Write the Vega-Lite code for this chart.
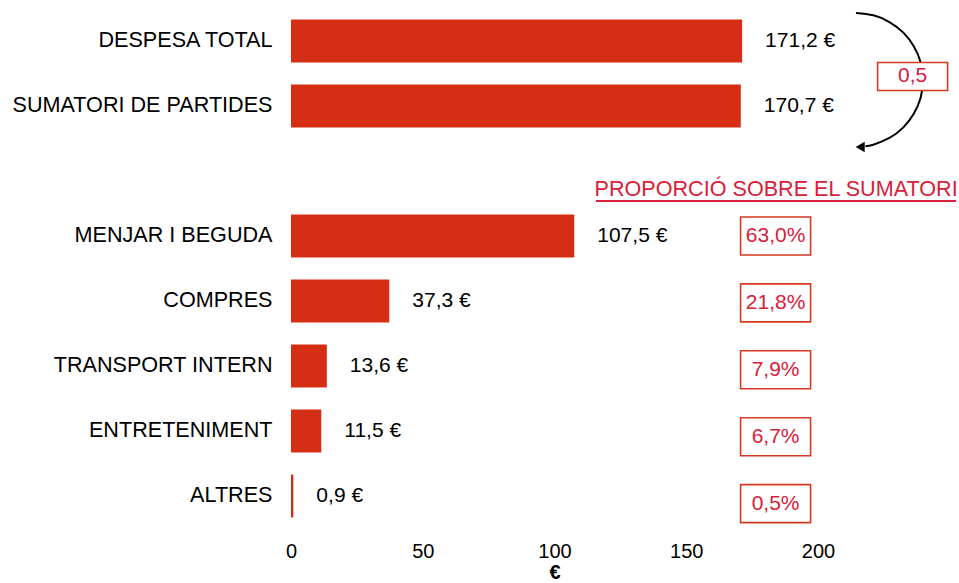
{
  "$schema": "https://vega.github.io/schema/vega-lite/v6.json",
  "width": 527,
  "height": 520,
  "autosize": "none",
  "padding": {"left": 291, "top": 8.5, "right": 141, "bottom": 54.5},
  "background": "white",
  "config": {
    "view": {"stroke": null},
    "font": "Liberation Sans",
    "text": {"fontSize": 20}
  },
  "datasets": {
    "cats": [
      {"cat": "DESPESA TOTAL", "v": 171.2, "lab": "171,2 €"},
      {"cat": "SUMATORI DE PARTIDES", "v": 170.7, "lab": "170,7 €"},
      {"cat": "MENJAR I BEGUDA", "v": 107.5, "lab": "107,5 €", "pct": "63,0%", "r": 3},
      {"cat": "COMPRES", "v": 37.3, "lab": "37,3 €", "pct": "21,8%", "r": 4},
      {"cat": "TRANSPORT INTERN", "v": 13.6, "lab": "13,6 €", "pct": "7,9%", "r": 5},
      {"cat": "ENTRETENIMENT", "v": 11.5, "lab": "11,5 €", "pct": "6,7%", "r": 6},
      {"cat": "ALTRES", "v": 0.9, "lab": "0,9 €", "pct": "0,5%", "r": 7}
    ],
    "arc": [
      {"i": 0, "x": 214.4, "r": -0.431},
      {"i": 1, "x": 221.0, "r": -0.395},
      {"i": 2, "x": 227.1, "r": -0.292},
      {"i": 3, "x": 232.4, "r": -0.129},
      {"i": 4, "x": 236.4, "r": 0.085},
      {"i": 5, "x": 239.0, "r": 0.334},
      {"i": 6, "x": 239.8, "r": 0.6},
      {"i": 7, "x": 239.0, "r": 0.866},
      {"i": 8, "x": 236.4, "r": 1.115},
      {"i": 9, "x": 232.4, "r": 1.329},
      {"i": 10, "x": 227.1, "r": 1.492},
      {"i": 11, "x": 221.0, "r": 1.595},
      {"i": 12, "x": 218.0, "r": 1.62}
    ]
  },
  "layer": [
    {
      "data": {"name": "cats"},
      "encoding": {
        "y": {
          "field": "cat",
          "type": "nominal",
          "sort": null,
          "scale": {
            "domain": ["DESPESA TOTAL", "SUMATORI DE PARTIDES", " ", "MENJAR I BEGUDA", "COMPRES", "TRANSPORT INTERN", "ENTRETENIMENT", "ALTRES"],
            "paddingInner": 0.34,
            "paddingOuter": 0.17
          },
          "axis": {
            "title": null,
            "domain": false,
            "ticks": false,
            "labelFontSize": 21.6,
            "labelColor": "#000000",
            "labelPadding": 19,
            "labelLimit": 400
          }
        }
      },
      "layer": [
        {
          "mark": {"type": "bar", "color": "#d62e14"},
          "encoding": {
            "x": {
              "field": "v",
              "type": "quantitative",
              "scale": {"domain": [0, 200], "nice": false},
              "axis": {
                "values": [0, 50, 100, 150, 200],
                "domain": false,
                "ticks": false,
                "grid": false,
                "labelFlush": false,
                "labelFontSize": 20,
                "labelColor": "#000000",
                "labelPadding": 13,
                "title": "€",
                "titleFontSize": 20,
                "titleFontWeight": "bold",
                "titleColor": "#000000",
                "titlePadding": 1
              }
            }
          }
        },
        {
          "mark": {"type": "text", "align": "left", "dx": 23, "color": "#000000", "fontSize": 21},
          "encoding": {
            "x": {"field": "v", "type": "quantitative"},
            "text": {"field": "lab"}
          }
        }
      ]
    },
    {
      "encoding": {},
      "layer": [
        {
          "data": {"name": "arc"},
          "mark": {"type": "line", "color": "#000000", "strokeWidth": 2, "interpolate": "natural"},
          "encoding": {
            "x": {"field": "x", "type": "quantitative", "title": "€"},
            "y": {"field": "r", "type": "quantitative", "axis": null, "scale": {"domain": [-0.5, 7.5], "reverse": true, "nice": false, "zero": false}},
            "order": {"field": "i"}
          }
        },
        {
          "data": {"values": [{}]},
          "mark": {"type": "point", "shape": "triangle-left", "filled": true, "color": "#000000", "opacity": 1, "size": 110},
          "encoding": {
            "x": {"datum": 216.0},
            "y": {"datum": 1.63}
          }
        },
        {
          "data": {"values": [{}]},
          "mark": {"type": "point", "shape": "M-1,-0.4L1,-0.4L1,0.4L-1,0.4Z", "size": 4900, "fill": "#ffffff", "stroke": "#d63a21", "strokeWidth": 1.6, "opacity": 1, "fillOpacity": 1},
          "encoding": {
            "x": {"datum": 235.9},
            "y": {"datum": 0.546}
          }
        },
        {
          "data": {"values": [{}]},
          "mark": {"type": "text", "text": "0,5", "color": "#d7213a", "fontSize": 21},
          "encoding": {
            "x": {"datum": 235.9},
            "y": {"datum": 0.546}
          }
        },
        {
          "data": {"values": [{}]},
          "mark": {"type": "text", "text": "PROPORCIÓ SOBRE EL SUMATORI", "color": "#d7213a", "fontSize": 21.6},
          "encoding": {
            "x": {"datum": 184.1},
            "y": {"datum": 2.29}
          }
        },
        {
          "data": {"values": [{}]},
          "mark": {"type": "rule", "color": "#d7213a", "strokeWidth": 2},
          "encoding": {
            "x": {"datum": 115.7},
            "x2": {"datum": 252.4},
            "y": {"datum": 2.462}
          }
        }
      ]
    },
    {
      "data": {"name": "cats"},
      "transform": [{"filter": "isValid(datum.pct)"}],
      "encoding": {
        "x": {"datum": 183.9},
        "y": {"field": "r", "type": "quantitative", "axis": null, "scale": {"domain": [-0.4006, 7.372], "reverse": true, "nice": false, "zero": false}}
      },
      "layer": [
        {
          "mark": {"type": "point", "shape": "M-1,-0.543L1,-0.543L1,0.543L-1,0.543Z", "size": 4900, "fill": "#ffffff", "stroke": "#d63a21", "strokeWidth": 1.6, "opacity": 1, "fillOpacity": 1}
        },
        {
          "mark": {"type": "text", "color": "#d7213a", "fontSize": 21},
          "encoding": {"text": {"field": "pct"}}
        }
      ]
    }
  ],
  "resolve": {"scale": {"y": "independent"}, "axis": {"y": "independent"}}
}
